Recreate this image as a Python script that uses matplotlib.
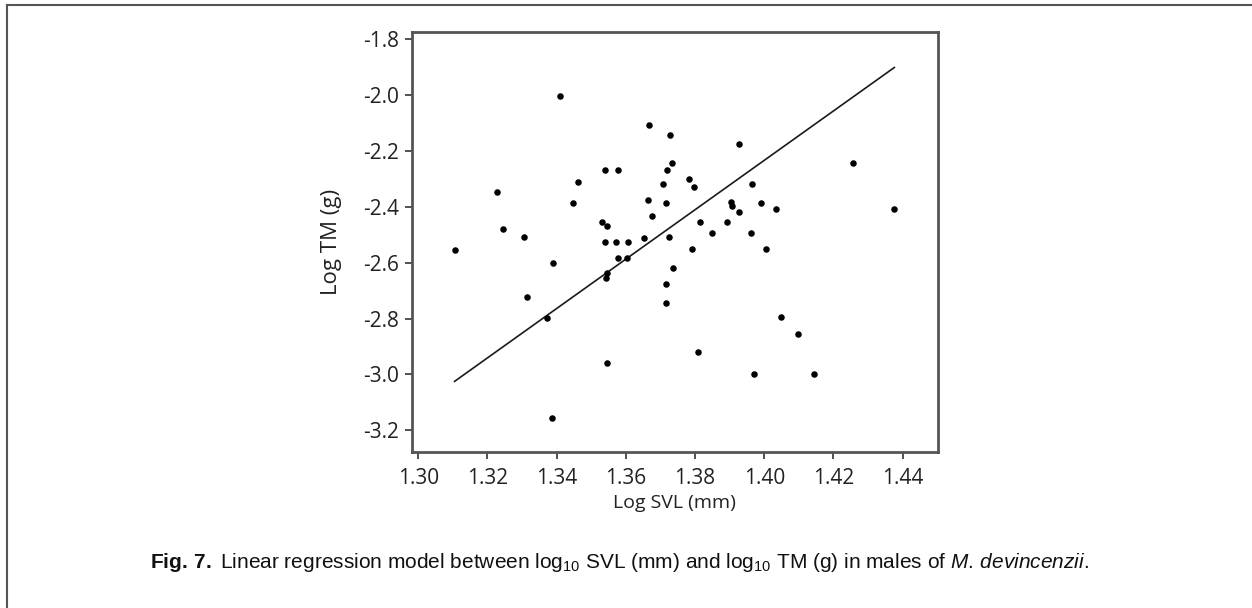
import numpy as np
import matplotlib
matplotlib.use("Agg")
import matplotlib.pyplot as plt
from matplotlib.lines import Line2D

# log10 SVL (mm) and log10 TM (g), males
log_svl = [1.3105, 1.3229, 1.3246, 1.3306, 1.3313, 1.3371, 1.3386, 1.3390,
           1.3410, 1.3446, 1.3462, 1.3532, 1.3546, 1.3540, 1.3571, 1.3607,
           1.3540, 1.3576, 1.3576, 1.3602, 1.3545, 1.3542, 1.3546, 1.3653,
           1.3663, 1.3675, 1.3666, 1.3728, 1.3733, 1.3720, 1.3708, 1.3716,
           1.3725, 1.3735, 1.3717, 1.3716, 1.3782, 1.3798, 1.3790, 1.3814,
           1.3809, 1.3849, 1.3893, 1.3903, 1.3906, 1.3928, 1.3927, 1.3966,
           1.3961, 1.3971, 1.3990, 1.4005, 1.4034, 1.4048, 1.4097, 1.4144,
           1.4256, 1.4376]
log_tm = [-2.553, -2.345, -2.479, -2.508, -2.722, -2.797, -3.156, -2.601,
          -2.003, -2.387, -2.310, -2.455, -2.468, -2.525, -2.525, -2.525,
          -2.268, -2.268, -2.584, -2.584, -2.638, -2.656, -2.958, -2.510,
          -2.375, -2.432, -2.106, -2.142, -2.244, -2.268, -2.318, -2.387,
          -2.509, -2.620, -2.677, -2.746, -2.300, -2.330, -2.552, -2.455,
          -2.921, -2.495, -2.455, -2.384, -2.396, -2.173, -2.419, -2.318,
          -2.495, -3.000, -2.387, -2.552, -2.408, -2.796, -2.854, -3.000,
          -2.243, -2.408]

# regression line as drawn in the figure
slope = 8.85
intercept = -14.623

x_ticks = [1.30, 1.32, 1.34, 1.36, 1.38, 1.40, 1.42, 1.44]
y_ticks = [-3.2, -3.0, -2.8, -2.6, -2.4, -2.2, -2.0, -1.8]

plt.rcParams["font.family"] = ["Open Sans", "DejaVu Sans"]
plt.rcParams["mathtext.fontset"] = "custom"
plt.rcParams["mathtext.rm"] = "Liberation Sans"
plt.rcParams["mathtext.it"] = "Liberation Sans:italic"
plt.rcParams["mathtext.bf"] = "Liberation Sans:bold"

fig = plt.figure(figsize=(12.52, 6.08), dpi=100)
ax = fig.add_axes([0.3288, 0.2571, 0.4201, 0.6908])

x = np.array(log_svl)
y = np.array(log_tm)
ax.scatter(x, y, s=22, color="black", zorder=3, linewidths=0)

xl = np.array([x.min(), x.max()])
ax.plot(xl, intercept + slope * xl, color="#1a1a1a", lw=1.2)

ax.set_xlim(1.2981, 1.4501)
ax.set_ylim(-3.277, -1.772)
ax.set_xticks(x_ticks)
ax.set_xticklabels([f"{t:.2f}" for t in x_ticks])
ax.set_yticks(y_ticks)
ax.set_yticklabels([f"{t:.1f}" for t in y_ticks])
ax.tick_params(direction="out", length=5, width=1.2, color="#333333",
               labelsize=15, labelcolor="#222222")
ax.tick_params(axis="x", pad=7)
ax.tick_params(axis="y", pad=4)
for sp in ax.spines.values():
    sp.set_color("#555555")
    sp.set_linewidth(2)

ax.set_xlabel("Log SVL (mm)", fontsize=14, color="#222222", labelpad=3)
ax.set_ylabel("Log TM (g)", fontsize=16, color="#222222", labelpad=15)

caption = (r"$\bf{Fig.\,7.}$ Linear regression model between log$_{10}$ SVL (mm) "
           r"and log$_{10}$ TM (g) in males of $\it{M.\,devincenzii}$.")
fig.text(150 / 1252, 1 - 563 / 608, caption, fontsize=15,
         family="Liberation Sans", va="center", ha="left", color="#111111")

# outer frame of the figure panel (top and left edges)
fig.add_artist(Line2D([7 / 1252, 1.0], [1 - 5 / 608, 1 - 5 / 608],
                      transform=fig.transFigure, color="#555555", lw=1.5))
fig.add_artist(Line2D([7 / 1252, 7 / 1252], [0.0, 1 - 5 / 608],
                      transform=fig.transFigure, color="#555555", lw=1.5))

fig.savefig("out.png", dpi=100)
